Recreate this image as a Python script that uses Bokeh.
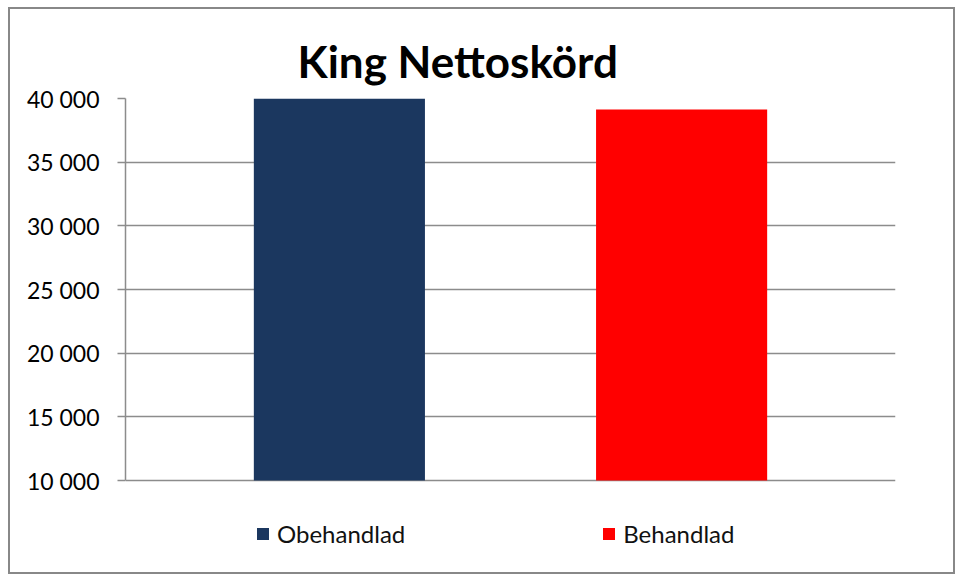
from bokeh.plotting import figure
from bokeh.models import FactorRange, Range1d, Legend, LegendItem, Title, FixedTicker, ColumnDataSource
from bokeh.embed import file_html
from bokeh.resources import INLINE

title_text = "King Nettoskörd"
series = ["Obehandlad", "Behandlad"]
values = [40000, 39130]
colors = ["#1b375f", "#ff0000"]
y_start, y_end = 10000, 40000
y_ticks = [10000, 15000, 20000, 25000, 30000, 35000, 40000]
y_tick_labels = ["10 000", "15 000", "20 000", "25 000", "30 000", "35 000", "40 000"]

FONT = "Lato"

# the frame extends below the value axis to host the legend
axis_px = 382.0      # pixel height of the value axis
legend_px = 86.0     # extra frame height below the axis for the legend
y_low = y_start - (y_end - y_start) * legend_px / axis_px

p = figure(width=947, height=567,
           x_range=FactorRange(factors=series, range_padding=0.125, range_padding_units="absolute"),
           y_range=Range1d(y_low, y_end),
           output_backend="svg", toolbar_location=None,
           min_border_left=115, min_border_right=62, min_border_top=89, min_border_bottom=10)
p.styles = {"border": "2px solid #888888", "margin-left": "8px", "margin-top": "7px"}
p.outline_line_color = None
p.background_fill_color = "white"
p.border_fill_color = "white"

t = Title(text=title_text, align="left", offset=172, text_font=FONT, text_font_size="44px",
          text_font_style="bold", text_color="black", standoff=23)
p.add_layout(t, "above")

renderers = []
for name, val, col in zip(series, values, colors):
    src = ColumnDataSource(dict(x=[name], top=[val], bottom=[y_start]))
    r = p.vbar(x="x", top="top", bottom="bottom", width=0.5, source=src,
               fill_color=col, line_color=None)
    renderers.append(r)

# y axis
p.yaxis.ticker = FixedTicker(ticks=y_ticks)
p.yaxis.bounds = (y_start, y_end)
p.yaxis.major_label_overrides = {t_: l for t_, l in zip(y_ticks, y_tick_labels)}
p.yaxis.major_label_text_font = FONT
p.yaxis.major_label_text_font_size = "23px"
p.yaxis.major_label_text_color = "black"
p.yaxis.major_label_standoff = 18
p.yaxis.major_tick_out = 8
p.yaxis.major_tick_in = 0
p.yaxis.minor_tick_line_color = None
p.yaxis.axis_line_color = "#8c8c8c"
p.yaxis.axis_line_width = 1.5
p.yaxis.major_tick_line_color = "#8c8c8c"
p.yaxis.major_tick_line_width = 1.5

p.xaxis.visible = False

p.ygrid.grid_line_color = "#8c8c8c"
p.ygrid.grid_line_width = 1.5
p.xgrid.grid_line_color = None

legend = Legend(items=[LegendItem(label=n, renderers=[r]) for n, r in zip(series, renderers)],
                location=(130, 18), orientation="horizontal", padding=0, margin=0,
                spacing=196, glyph_width=15, glyph_height=15, label_standoff=7,
                label_text_font=FONT, label_text_font_size="24px", label_text_color="#111111",
                border_line_color=None, background_fill_alpha=0)
p.add_layout(legend, "center")

open("out.html", "w").write(file_html(p, INLINE))
